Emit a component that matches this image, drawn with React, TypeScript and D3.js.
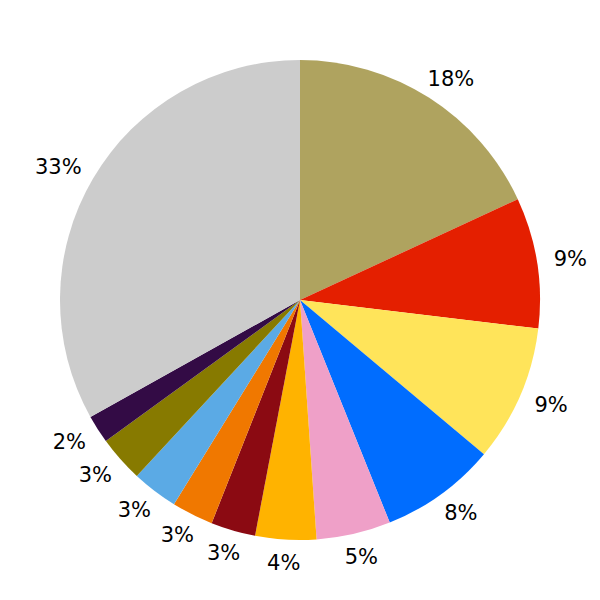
import React, { useRef, useEffect } from "react";
import * as d3 from "d3";

// slice shares in percent, clockwise from 12 o'clock
const shares = [18.1, 8.8, 9.2, 7.8, 5.0, 4.1, 3.0, 2.8, 3.1, 3.1, 1.9, 33.1];
const labels = ["18%", "9%", "9%", "8%", "5%", "4%", "3%", "3%", "3%", "3%", "2%", "33%"];
const colors = [
    "#afa35f", "#e41f00", "#ffe45a", "#006dff", "#efa0c8", "#ffb300",
    "#8b0a12", "#f07800", "#5baae5", "#877a00", "#330b45", "#cccccc",
];

const App = () => {
    const svgRef = useRef<SVGSVGElement>(null);

    useEffect(() => {
        if (!svgRef.current) return;
        const width = 600;
        const height = 600;
        const radius = 240;
        const labelRadius = 257;

        d3.select(svgRef.current).selectAll("*").remove();
        const svg = d3.select(svgRef.current).attr("width", width).attr("height", height);

        const g = svg.append("g").attr("transform", `translate(${width / 2},${height / 2})`);

        const data = shares.map((v, i) => ({ value: v, label: labels[i], color: colors[i] }));

        const pie = d3
            .pie<{ value: number; label: string; color: string }>()
            .sort(null)
            .value((d) => d.value);

        const arcs = pie(data);

        const arc = d3.arc<any>().innerRadius(0).outerRadius(radius);

        g.selectAll(".slice")
            .data(arcs)
            .enter()
            .append("path")
            .attr("class", "slice")
            .attr("d", arc)
            .attr("fill", (d) => d.data.color);

        // labels sit just outside the rim, pushed out by half their width sideways
        g.selectAll(".label")
            .data(arcs)
            .enter()
            .append("text")
            .attr("class", "label")
            .attr("dy", "0.35em")
            .style("text-anchor", "middle")
            .style("font-family", "DejaVu Sans")
            .style("font-size", "21px")
            .style("fill", "#000")
            .text((d) => d.data.label)
            .each(function (d) {
                const mid = (d.startAngle + d.endAngle) / 2;
                const w = (this as SVGTextElement).getComputedTextLength();
                const x = (labelRadius + w / 2) * Math.sin(mid);
                const y = -(labelRadius + 6) * Math.cos(mid);
                d3.select(this).attr("x", x).attr("y", y);
            });
    }, []);

    return (
        <svg
            ref={svgRef}
            style={{ position: "absolute", left: 0, top: 0, background: "#fff" }}
        />
    );
};

export default App;
